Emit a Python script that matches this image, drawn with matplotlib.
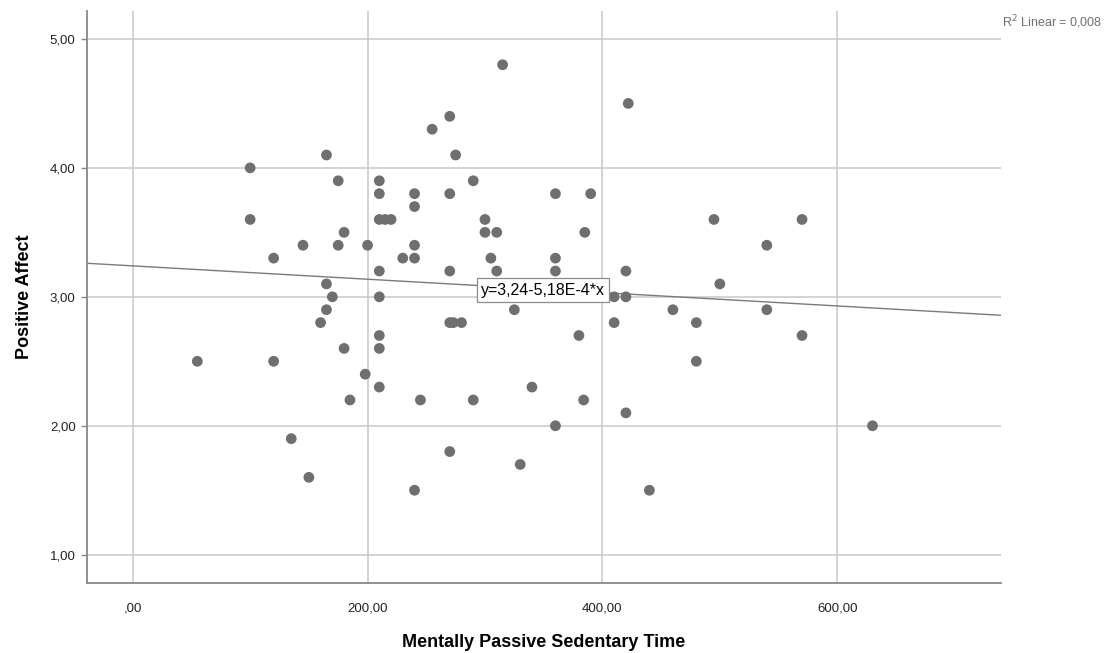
import matplotlib
matplotlib.use("Agg")
import matplotlib.pyplot as plt
from matplotlib.ticker import FuncFormatter

plt.rcParams['font.family'] = ['Liberation Sans', 'DejaVu Sans']

# Mentally passive sedentary time (min) and positive affect
sed_time = [165, 100, 175, 210, 210, 100, 210, 180, 145, 175, 200, 120, 210, 165, 170, 210,
            315, 422, 270, 255, 275, 290, 240, 270, 360, 390, 240, 215, 220, 300, 300,
            310, 385, 240, 230, 240, 305, 360, 270, 310, 360, 420, 410, 420,
            495, 570, 540, 500,
            165, 160, 210, 180, 210, 55, 120, 198, 210, 185, 135, 150,
            325, 270, 273, 280, 410, 380, 340, 245, 290, 384, 420, 360, 270, 330, 240, 440,
            460, 540, 480, 570, 480, 630]
pos_affect = [4.1, 4.0, 3.9, 3.9, 3.8, 3.6, 3.6, 3.5, 3.4, 3.4, 3.4, 3.3, 3.2, 3.1, 3.0, 3.0,
              4.8, 4.5, 4.4, 4.3, 4.1, 3.9, 3.8, 3.8, 3.8, 3.8, 3.7, 3.6, 3.6, 3.6, 3.5,
              3.5, 3.5, 3.4, 3.3, 3.3, 3.3, 3.3, 3.2, 3.2, 3.2, 3.2, 3.0, 3.0,
              3.6, 3.6, 3.4, 3.1,
              2.9, 2.8, 2.7, 2.6, 2.6, 2.5, 2.5, 2.4, 2.3, 2.2, 1.9, 1.6,
              2.9, 2.8, 2.8, 2.8, 2.8, 2.7, 2.3, 2.2, 2.2, 2.2, 2.1, 2.0, 1.8, 1.7, 1.5, 1.5,
              2.9, 2.9, 2.8, 2.7, 2.5, 2.0]

# fit line as printed on the chart
intercept = 3.24
slope = -5.18e-4
r2_text = "R$^2$ Linear = 0,008"
eq_text = "y=3,24-5,18E-4*x"

x_ticks = [0, 200, 400, 600]
y_ticks = [1, 2, 3, 4, 5]


def comma_fmt(v, pos):
    s = "%.2f" % v
    s = s.replace(".", ",")
    if s.startswith("0,"):
        s = s[1:]
    return s


fig = plt.figure(figsize=(11.2, 6.53), dpi=100)
ax = fig.add_axes([0.0774, 0.1067, 0.8161, 0.8769])

ax.set_xlim(-39.2, 739.2)
ax.set_ylim(0.778, 5.219)

ax.grid(True, color="#c8c8c8", linewidth=1.1)
ax.set_axisbelow(True)

ax.scatter(sed_time, pos_affect, s=60, color="#6f6f6f", edgecolors="none", zorder=3)

xl = ax.get_xlim()
ax.plot(xl, [intercept + slope * xl[0], intercept + slope * xl[1]],
        color="#7a7a7a", linewidth=1.0, zorder=2)

ax.text(349.4, 3.05, eq_text, fontsize=11.5, ha="center", va="center", zorder=4,
        bbox=dict(boxstyle="square,pad=0.28", facecolor="white", edgecolor="#8c8c8c", linewidth=0.9))

fig.text(0.895, 0.966, r2_text, fontsize=9, color="#707070", ha="left", va="center")

ax.set_xticks(x_ticks)
ax.set_yticks(y_ticks)
ax.xaxis.set_major_formatter(FuncFormatter(comma_fmt))
ax.yaxis.set_major_formatter(FuncFormatter(comma_fmt))
ax.tick_params(axis="x", length=0, pad=14, labelsize=9.5, labelcolor="#222222")
ax.tick_params(axis="y", length=4, width=1, color="#888888", pad=4, labelsize=9.5, labelcolor="#222222")

for side in ["top", "right"]:
    ax.spines[side].set_visible(False)
for side in ["left", "bottom"]:
    ax.spines[side].set_color("#888888")
    ax.spines[side].set_linewidth(1.3)

ax.set_xlabel("Mentally Passive Sedentary Time", fontsize=13, fontweight="bold", labelpad=14)
ax.set_ylabel("Positive Affect", fontsize=13, fontweight="bold", labelpad=12)

fig.savefig("out.png", dpi=100)
